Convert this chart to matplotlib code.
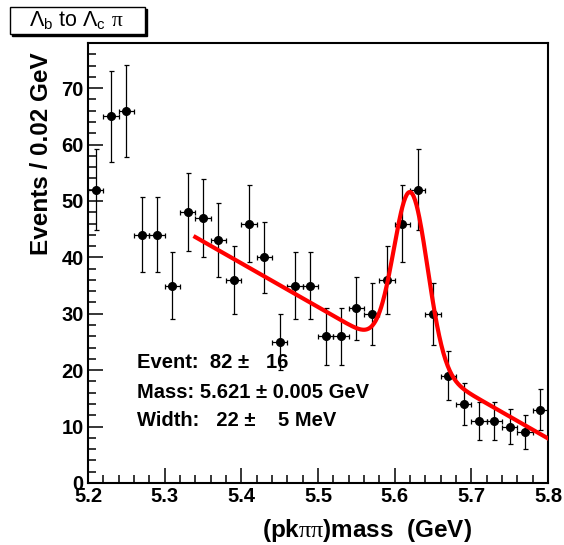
import numpy as np
import matplotlib
matplotlib.use('Agg')
from matplotlib import pyplot as plt
from matplotlib.ticker import MultipleLocator
from matplotlib.patches import Rectangle

plt.rcParams['font.family'] = ['Liberation Sans', 'DejaVu Sans']
plt.rcParams['font.weight'] = 'bold'
plt.rcParams['mathtext.fontset'] = 'custom'
plt.rcParams['mathtext.rm'] = 'Liberation Sans:weight=normal'
plt.rcParams['mathtext.it'] = 'Liberation Sans:italic:weight=normal'
plt.rcParams['mathtext.bf'] = 'Liberation Sans:weight=bold'
plt.rcParams['mathtext.sf'] = 'Liberation Serif:weight=normal'

# --- histogram (bin centres in GeV, 0.02 GeV bins)
mass = [5.21, 5.23, 5.25, 5.27, 5.29, 5.31, 5.33, 5.35, 5.37, 5.39,
        5.41, 5.43, 5.45, 5.47, 5.49, 5.51, 5.53, 5.55, 5.57, 5.59,
        5.61, 5.63, 5.65, 5.67, 5.69, 5.71, 5.73, 5.75, 5.77, 5.79]
counts = [52, 65, 66, 44, 44, 35, 48, 47, 43, 36,
          46, 40, 25, 35, 35, 26, 26, 31, 30, 36,
          46, 52, 30, 19, 14, 11, 11, 10, 9, 13]
bin_width = 0.02

# --- fit result: gaussian signal + linear background
n_signal = 82
peak_mass = 5.621
peak_width = 0.022
fit_range = (5.34, 5.80)
bkg_ends = (43.6, 7.9)

mass = np.array(mass)
counts = np.array(counts)

fig = plt.figure(figsize=(5.64, 5.45), dpi=100)
ax = fig.add_axes([0.156, 0.1138, 0.8156, 0.8073])

ax.errorbar(mass, counts, xerr=bin_width / 2, yerr=np.sqrt(counts),
            fmt='o', color='black', ms=5.5, elinewidth=0.9,
            capsize=1.8, capthick=0.9, zorder=3)

xf = np.linspace(fit_range[0], fit_range[1], 500)
slope = (bkg_ends[1] - bkg_ends[0]) / (fit_range[1] - fit_range[0])
bkg = bkg_ends[0] + slope * (xf - fit_range[0])
amp = n_signal * bin_width / (peak_width * np.sqrt(2 * np.pi))
sig = amp * np.exp(-0.5 * ((xf - peak_mass) / peak_width) ** 2)
ax.plot(xf, bkg + sig, color='red', lw=3.0, zorder=4)

ax.set_xlim(5.2, 5.8)
ax.set_ylim(0, 78)
ax.xaxis.set_major_locator(MultipleLocator(0.1))
ax.xaxis.set_minor_locator(MultipleLocator(0.02))
ax.yaxis.set_major_locator(MultipleLocator(10))
ax.yaxis.set_minor_locator(MultipleLocator(2))
ax.tick_params(which='both', direction='in', top=False, right=False,
               labelsize=14.5, width=1.1)
ax.tick_params(which='major', length=11, pad=3)
ax.tick_params(which='minor', length=6)
ax.set_xticks([5.2, 5.3, 5.4, 5.5, 5.6, 5.7, 5.8])
ax.set_xticklabels(['5.2', '5.3', '5.4', '5.5', '5.6', '5.7', '5.8'])
for s in ax.spines.values():
    s.set_linewidth(1.5)

ax.text(5.264, 21.3, 'Event:  82 \u00b1   16', fontsize=14.5, va='center')
ax.text(5.264, 16.1, 'Mass: 5.621 \u00b1 0.005 GeV', fontsize=14.5, va='center')
ax.text(5.264, 11.0, 'Width:   22 \u00b1    5 MeV', fontsize=14.5, va='center')

fig.text(367 / 564, 1 - 531 / 545, r'(pk$\mathsf{\pi\pi}$)mass  (GeV)',
         fontsize=17.5, ha='center', va='center')
fig.text(42 / 564, 1 - 154 / 545, 'Events / 0.02 GeV', fontsize=17.5,
         rotation=90, ha='center', va='center')

# title box with shadow
fig.patches.append(Rectangle((12 / 564, 1 - 36 / 545), 135 / 564, 27 / 545,
                             transform=fig.transFigure, color='black', zorder=1))
fig.patches.append(Rectangle((10 / 564, 1 - 34 / 545), 135 / 564, 27 / 545,
                             transform=fig.transFigure, facecolor='white',
                             edgecolor='black', lw=1, zorder=2))
fig.text(76 / 564, 1 - 21 / 545,
         r'$\mathrm{\Lambda_b}$ to $\mathrm{\Lambda_c}$ $\mathsf{\pi}$',
         fontsize=15.5, fontweight='normal', ha='center', va='center', zorder=3)

fig.savefig('out.png', dpi=100)
